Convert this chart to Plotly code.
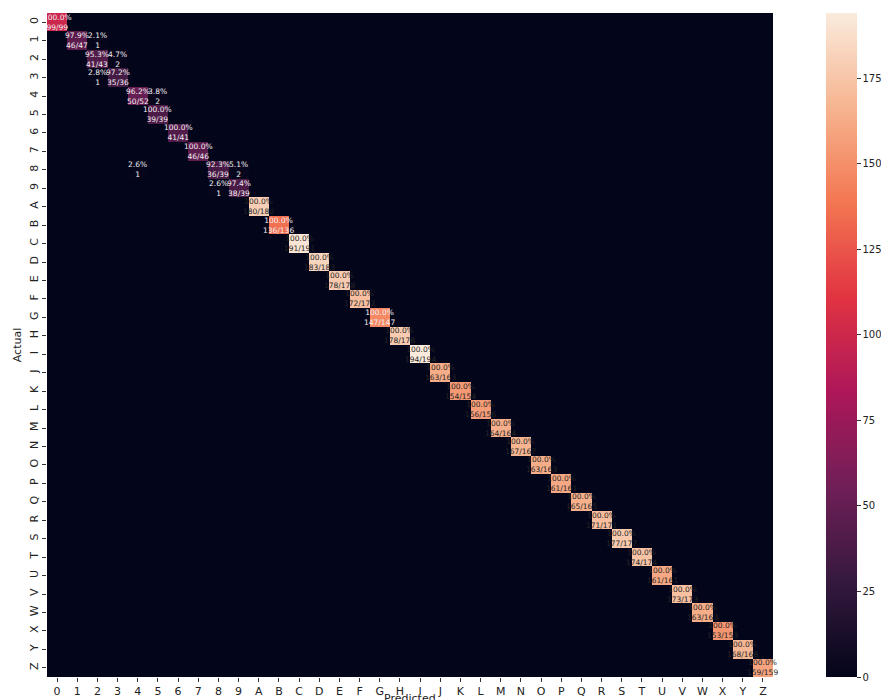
import numpy as np
import plotly.graph_objects as go

# Class labels
labels = list("0123456789ABCDEFGHIJKLMNOPQRSTUVWXYZ")

# Correct predictions per class (diagonal of the confusion matrix)
diag_counts = [99, 46, 41, 35, 50, 39, 41, 46, 36, 38,
               180, 136, 191, 183, 178, 172, 147, 178, 194, 163,
               154, 156, 164, 167, 163, 161, 165, 171, 177, 174,
               161, 173, 163, 153, 168, 159]

# Misclassifications: (actual, predicted, count)
off_diag = [("1", "2", 1), ("2", "3", 2), ("3", "2", 1),
            ("4", "5", 2), ("8", "4", 1), ("8", "9", 2), ("9", "8", 1)]

n = len(labels)
cm = np.zeros((n, n), dtype=int)
for i, c in enumerate(diag_counts):
    cm[i, i] = c
for a, p, c in off_diag:
    cm[labels.index(a), labels.index(p)] = c
row_tot = cm.sum(axis=1)

# seaborn "rocket" colormap
rocket = [
    [0.000, "#03051a"],
    [0.143, "#35193e"],
    [0.286, "#701f57"],
    [0.429, "#ad1759"],
    [0.571, "#e13342"],
    [0.714, "#f37651"],
    [0.857, "#f6b48f"],
    [1.000, "#faebdd"],
]

zmax = int(cm.max())

fig = go.Figure(go.Heatmap(
    z=cm,
    x=list(range(n)),
    y=list(range(n)),
    zmin=0, zmax=zmax,
    colorscale=rocket,
    hoverinfo="skip",
    colorbar=dict(
        x=1.073, xanchor="left", xref="paper",
        y=0.5, yanchor="middle", len=1.0, lenmode="fraction",
        thickness=31, outlinewidth=0, xpad=0, ypad=0,
        tickvals=[0, 25, 50, 75, 100, 125, 150, 175],
        ticks="outside", ticklen=4, tickcolor="#333",
        tickfont=dict(family="DejaVu Sans", size=10, color="#222"),
    ),
))

annotations = []
for i in range(n):
    for j in range(n):
        c = cm[i, j]
        if c == 0:
            continue
        pct = 100.0 * c / row_tot[i]
        if i == j:
            txt = f"{pct:.1f}%<br>{c}/{row_tot[i]}"
        else:
            txt = f"{pct:.1f}%<br>{c}"
        color = "#262626" if c >= 150 else "#f4eef2"
        annotations.append(dict(
            x=j, y=i, xref="x", yref="y", text=txt, showarrow=False,
            align="center",
            font=dict(family="DejaVu Sans", size=7.5, color=color),
        ))

annotations.append(dict(
    x=0.5, y=-0.032, xref="paper", yref="paper", text="Predicted",
    showarrow=False, yanchor="middle",
    font=dict(family="DejaVu Sans", size=11, color="#222"),
))
annotations.append(dict(
    x=-0.041, y=0.5, xref="paper", yref="paper", text="Actual",
    showarrow=False, textangle=-90, xanchor="center",
    font=dict(family="DejaVu Sans", size=11, color="#222"),
))

fig.update_layout(
    width=881, height=700,
    margin=dict(l=47, r=108, t=13, b=23, autoexpand=False),
    paper_bgcolor="white", plot_bgcolor="white",
    annotations=annotations,
    showlegend=False,
)
fig.update_xaxes(
    tickvals=list(range(n)), ticktext=labels,
    ticks="outside", ticklen=4, tickcolor="#333",
    tickfont=dict(family="DejaVu Sans", size=11, color="#222"),
    showgrid=False, zeroline=False, range=[-0.5, n - 0.5],
    automargin=False,
)
fig.update_yaxes(
    tickvals=list(range(n)), ticktext=labels,
    ticks="outside", ticklen=4, tickcolor="#333", tickangle=-90,
    tickfont=dict(family="DejaVu Sans", size=11, color="#222"),
    showgrid=False, zeroline=False, range=[n - 0.5, -0.5],
    automargin=False,
)

fig.write_html("out.html")
